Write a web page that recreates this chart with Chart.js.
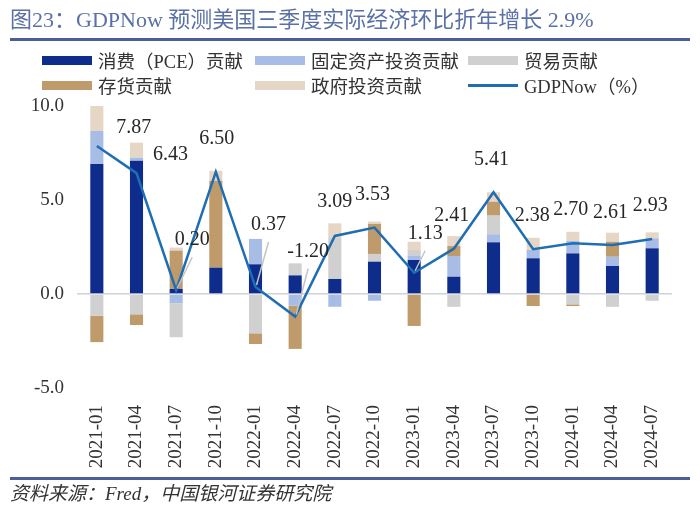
<!DOCTYPE html>
<html><head><meta charset="utf-8">
<script src="https://cdn.jsdelivr.net/npm/chart.js@4.4.1/dist/chart.umd.min.js"></script>
<style>
html,body{margin:0;padding:0;background:#fff;}
#wrap{position:relative;width:700px;height:511px;overflow:hidden;font-family:"Liberation Serif","Noto Sans CJK SC",serif;}
#title{position:absolute;left:10px;top:6px;font-size:22px;color:#5b70a6;white-space:nowrap;line-height:28px;}
#tline{position:absolute;left:10px;top:38px;width:680px;height:3px;background:#4a5f98;}
#bline{position:absolute;left:10px;top:477px;width:680px;height:3px;background:#4a5f98;}
#src{position:absolute;left:10px;top:481px;font-size:19px;font-style:italic;color:#333;line-height:26px;white-space:nowrap;}
.lg{position:absolute;display:flex;align-items:center;font-size:18.5px;color:#333;white-space:nowrap;height:24px;}
.sw{width:50px;height:9px;margin-right:6px;}
.ln{width:50px;height:3px;margin-right:6px;background:#1f6eb4;}
canvas{position:absolute;left:0;top:0;}
</style></head>
<body><div id="wrap">
<canvas id="c" width="700" height="511"></canvas>
<div id="title">图23：GDPNow 预测美国三季度实际经济环比折年增长 2.9%</div>
<div id="tline"></div>
<div class="lg" style="left:42px;top:48px"><div class="sw" style="background:#0d2c8c"></div>消费（PCE）贡献</div>
<div class="lg" style="left:255px;top:48px"><div class="sw" style="background:#a8bde6"></div>固定资产投资贡献</div>
<div class="lg" style="left:468px;top:48px"><div class="sw" style="background:#d0d0d0"></div>贸易贡献</div>
<div class="lg" style="left:42px;top:73px"><div class="sw" style="background:#bf9b6b"></div>存货贡献</div>
<div class="lg" style="left:255px;top:73px"><div class="sw" style="background:#e6d6c5"></div>政府投资贡献</div>
<div class="lg" style="left:468px;top:73px"><div class="ln"></div>GDPNow（%）</div>
<div id="bline"></div>
<div id="src">资料来源：Fred，中国银河证券研究院</div>
</div>
<script>
const categories = ['2021-01','2021-04','2021-07','2021-10','2022-01','2022-04','2022-07','2022-10','2023-01','2023-04','2023-07','2023-10','2024-01','2024-04','2024-07'];
const pce        = [6.91, 7.09, 0.27, 1.40, 1.58, 0.99, 0.80, 1.72, 1.81, 0.92, 2.75, 1.90, 2.16, 1.49, 2.43];
const fixedInv   = [1.76, 0.16, -0.49, 0.00, 1.35, -0.62, -0.68, -0.36, 0.21, 1.10, 0.43, 0.44, 0.67, 0.49, 0.53];
const trade      = [-1.15, -1.08, -1.81, 0.00, -2.09, 0.64, 2.22, 0.41, 0.32, -0.68, 0.99, 0.00, -0.55, -0.68, -0.36];
const inventory  = [-1.41, -0.57, 2.04, 4.63, -0.57, -2.30, 0.00, 1.60, -1.70, 0.53, 0.74, -0.64, -0.09, 0.80, 0.00];
const government = [1.33, 0.80, 0.16, 0.52, 0.00, 0.00, 0.74, 0.12, 0.44, 0.53, 0.50, 0.65, 0.48, 0.48, 0.32];
const gdpNow     = [7.87, 6.43, 0.20, 6.50, 0.37, -1.20, 3.09, 3.53, 1.13, 2.41, 5.41, 2.38, 2.70, 2.61, 2.93];
const yTicks     = [-5, 0, 5, 10];
const seriesNames = ['消费（PCE）贡献','固定资产投资贡献','贸易贡献','存货贡献','政府投资贡献','GDPNow（%）'];

// label placement (pixel offsets relative to each point) and leader flags
const labelOffsets = [[37,-18,0],[34,-18,0],[16,-50,1],[1,-33,0],[13,-62,1],[13,-65,1],[0,-34,0],[-2,-33,0],[11,-39,1],[-2,-33,0],[-2,-33,0],[-1,-34,0],[-2,-33,0],[-2,-32,0],[-2,-33,0]];

const labelPlugin = {
  id: 'gdpLabels',
  afterDatasetsDraw(chart, args, opts) {
    const meta = chart.getDatasetMeta(5);
    const ctx = chart.ctx;
    ctx.save();
    ctx.font = '20px "Liberation Serif"';
    ctx.fillStyle = '#262626';
    ctx.textAlign = 'center';
    ctx.textBaseline = 'middle';
    meta.data.forEach((pt, i) => {
      const o = opts.offsets[i];
      const lx = pt.x + o[0], ly = pt.y + o[1];
      if (o[2]) {
        ctx.strokeStyle = '#c4c4c4';
        ctx.lineWidth = 1.5;
        ctx.beginPath();
        ctx.moveTo(pt.x + 1, pt.y - 2);
        ctx.lineTo(lx, ly + 17);
        ctx.stroke();
      }
      ctx.fillText(gdpNow[i].toFixed(2), lx, ly);
    });
    ctx.restore();
  }
};

const barCommon = {type: 'bar', stack: 's', order: 1, barPercentage: 0.33, categoryPercentage: 1.0};

new Chart(document.getElementById('c'), {
  data: {
    labels: categories,
    datasets: [
      {...barCommon, label: seriesNames[0], data: pce, backgroundColor: '#0d2c8c'},
      {...barCommon, label: seriesNames[1], data: fixedInv, backgroundColor: '#a8bde6'},
      {...barCommon, label: seriesNames[2], data: trade, backgroundColor: '#d0d0d0'},
      {...barCommon, label: seriesNames[3], data: inventory, backgroundColor: '#bf9b6b'},
      {...barCommon, label: seriesNames[4], data: government, backgroundColor: '#e6d6c5'},
      {type: 'line', label: seriesNames[5], data: gdpNow, borderColor: '#1f6eb4', borderWidth: 2.5, pointRadius: 0, tension: 0, order: 0, fill: false}
    ]
  },
  options: {
    responsive: false,
    animation: false,
    layout: {padding: {left: 0, right: 28, top: 106, bottom: 33}},
    plugins: {
      legend: {display: false},
      tooltip: {enabled: false},
      gdpLabels: {offsets: labelOffsets}
    },
    scales: {
      x: {
        stacked: true,
        grid: {display: false, drawTicks: false},
        border: {display: false},
        ticks: {minRotation: 90, maxRotation: 90, padding: 17, color: '#333', font: {family: '"Liberation Serif"', size: 19}},
        afterFit(s) { s.height = 90; }
      },
      y: {
        stacked: true,
        min: -5, max: 10,
        afterBuildTicks(s) { s.ticks = yTicks.map(v => ({value: v})); },
        grid: {drawTicks: false, color: c => (c.tick && c.tick.value === 0) ? '#cfd2d8' : 'rgba(0,0,0,0)', lineWidth: 1.5},
        border: {display: false},
        ticks: {padding: 13, color: '#333', font: {family: '"Liberation Serif"', size: 19}, callback: v => Number(v).toFixed(1)},
        afterFit(s) { s.width = 77; }
      }
    }
  },
  plugins: [labelPlugin]
});
</script>
</body></html>
